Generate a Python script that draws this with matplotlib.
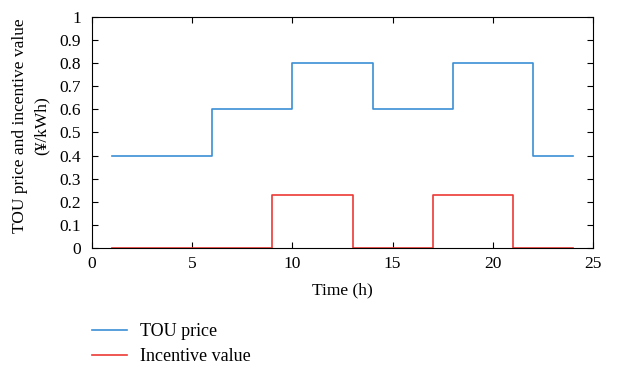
import matplotlib.pyplot as plt
import numpy as np

hours = list(range(1, 25))
tou_price = [0.4] * 5 + [0.6] * 4 + [0.8] * 4 + [0.6] * 4 + [0.8] * 4 + [0.4] * 3
incentive = [0.0] * 8 + [0.23] * 4 + [0.0] * 4 + [0.23] * 4 + [0.0] * 4

plt.rcParams['font.family'] = ['Liberation Serif', 'DejaVu Serif']
plt.rcParams['font.size'] = 12.5

fig = plt.figure(figsize=(6.29, 3.68), dpi=100)
ax = fig.add_axes([0.146, 0.326, 0.797, 0.628])

l1, = ax.plot(hours, tou_price, drawstyle='steps-post', color='#3b8fd6', lw=1.2, label='TOU price')
l2, = ax.plot(hours, incentive, drawstyle='steps-post', color='#ec3a35', lw=1.2, label='Incentive value')

ax.set_xlim(0, 25)
ax.set_ylim(0, 1)
ax.set_xticks(np.arange(0, 26, 5))
ax.set_yticks(np.arange(0, 1.01, 0.1))
ax.set_yticklabels(['0', '0.1', '0.2', '0.3', '0.4', '0.5', '0.6', '0.7', '0.8', '0.9', '1'])
ax.tick_params(direction='in', top=True, right=True, length=4, width=0.8)
ax.tick_params(axis='y', pad=8)
ax.tick_params(axis='x', pad=6)
for s in ax.spines.values():
    s.set_linewidth(0.8)
ax.set_xlabel('Time (h)', labelpad=7)
ax.set_ylabel('TOU price and incentive value\n(¥/kWh)', linespacing=1.45)
ax.yaxis.set_label_coords(-0.085, 0.53)

fig.legend(handles=[l1, l2], loc='upper left', bbox_to_anchor=(0.146, 0.122), frameon=False,
           fontsize=13, handlelength=1.95, handletextpad=0.72, labelspacing=0.45,
           borderpad=0, borderaxespad=0)

fig.savefig('out.png', dpi=100)
